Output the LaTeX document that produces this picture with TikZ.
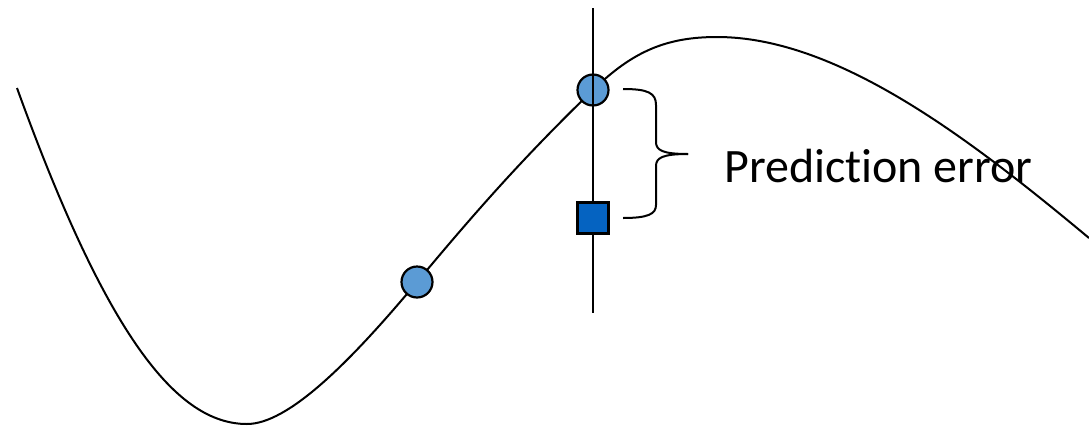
\documentclass[tikz,border=0pt]{standalone}
\usepackage{fontspec}
\setmainfont[Ligatures=NoCommon]{Carlito}
\definecolor{lightdot}{HTML}{5B9BD5}
\definecolor{darkdot}{HTML}{0563C1}
\begin{document}
\begin{tikzpicture}[x=1pt,y=-1pt,
  curveline/.style={line width=2pt,line join=round},
  dot/.style={circle,draw=black,line width=2.2pt,fill=lightdot,minimum size=31pt,inner sep=0pt},
  sq/.style={rectangle,draw=black,line width=2.2pt,fill=darkdot,minimum size=31pt,inner sep=0pt},
  lbl/.style={font=\fontsize{48}{58}\selectfont,inner sep=0pt,anchor=base west}]
\useasboundingbox (0,0) rectangle (1089,426);
\coordinate (cstart) at (17,88);
\coordinate (cmin) at (247,424);
\coordinate (cmax) at (717,37);
\coordinate (cend) at (1089,238);
\draw[curveline] (cstart) .. controls (107,337) and (177,424) .. (cmin)
  .. controls (287,424) and (347,366) .. (417,282)
  .. controls (477,210) and (523,158) .. (593,90)
  .. controls (633,51) and (667,37) .. (cmax)
  .. controls (837,37) and (969,138) .. (cend);
\node[dot] (p1) at (417,282) {};
\node[dot] (p2) at (593,90) {};
\coordinate (vtop) at (593,8);
\coordinate (vbot) at (593,313);
\draw[curveline] (vtop) -- (vbot);
\node[sq] (obs) at (593,218) {};
\coordinate (btop) at (623,89);
\coordinate (btip) at (688,154);
\coordinate (bbot) at (623,218);
\draw[curveline] (btop) .. controls (648,89) and (656,93) .. (656,105) -- (656,142) .. controls (656,150) and (662,154) .. (btip);
\draw[curveline] (btip) .. controls (662,154) and (656,158) .. (656,166) -- (656,205) .. controls (656,214) and (648,218) .. (bbot);
\node[lbl] (err) at (724,182) {Prediction error};
\end{tikzpicture}
\end{document}
